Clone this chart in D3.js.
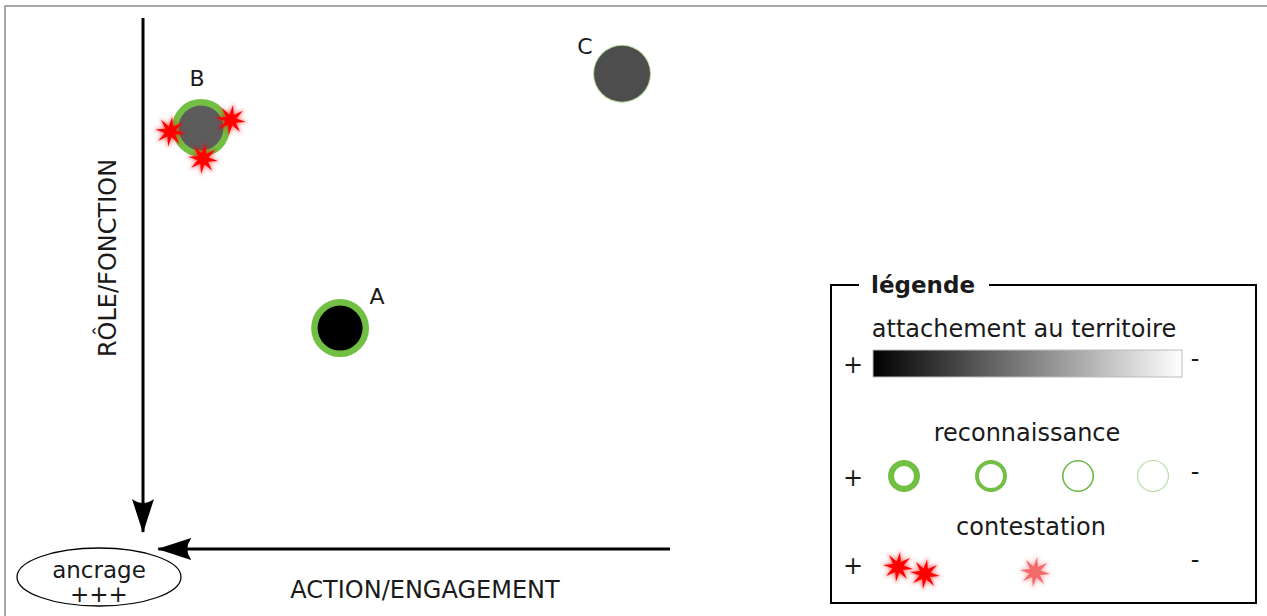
<!DOCTYPE html>
<html lang="fr">
<head>
    <meta charset="UTF-8">
    <script src="https://d3js.org/d3.v7.min.js"></script>
    <title>Ancrage</title>
    <style>
        body { margin: 0; background: #fff; }
        text { font-family: "DejaVu Sans", sans-serif; fill: #1a1a1a; }
    </style>
</head>
<body>
    <div id="chart"></div>
    <script>
        const width = 1267;
        const height = 616;

        // data
        const actors = ["A", "B", "C"];
        const engagement = [37.4, 11.0, 90.9];   // position along ACTION/ENGAGEMENT (0 = ancrage)
        const role = [41.6, 79.3, 89.5];         // position along RÔLE/FONCTION (0 = ancrage)
        const attachment = [0, 0.36, 0.30];      // 0 = strong (black), 1 = weak (white)
        const recognition = [1, 1, 4];           // 1 = strongest ... 4 = weakest
        const contestation = [0, 3, 0];          // number of contestation stars

        // legend content
        const recognitionLevels = [1, 2, 3, 4];
        const contestationLevels = [2, 1];       // "+" level and middle level
        const axisLabels = ["ACTION/ENGAGEMENT", "RÔLE/FONCTION"];

        const svg = d3.select("#chart").append("svg")
            .attr("width", width)
            .attr("height", height);

        const defs = svg.append("defs");

        // arrow head with concave back
        defs.append("marker")
            .attr("id", "head")
            .attr("viewBox", "0 -11 34 22")
            .attr("refX", 33)
            .attr("refY", 0)
            .attr("markerUnits", "userSpaceOnUse")
            .attr("markerWidth", 34)
            .attr("markerHeight", 22)
            .attr("orient", "auto")
            .append("path")
            .attr("d", "M0,-11 L34,0 L0,11 Q8,0 0,-11 Z")
            .attr("fill", "#000");

        const grad = defs.append("linearGradient").attr("id", "attachGrad");
        grad.append("stop").attr("offset", "0%").attr("stop-color", "#000");
        grad.append("stop").attr("offset", "100%").attr("stop-color", "#fff");

        const glow = defs.append("filter").attr("id", "glow")
            .attr("x", "-50%").attr("y", "-50%").attr("width", "200%").attr("height", "200%");
        glow.append("feGaussianBlur").attr("stdDeviation", 2.2);

        // outer frame
        svg.append("rect")
            .attr("x", 5).attr("y", 6)
            .attr("width", width + 10).attr("height", height + 10)
            .attr("fill", "none")
            .attr("stroke", "#8a8a8a")
            .attr("stroke-width", 1.5);

        // scales
        const x = d3.scaleLinear().domain([0, 100]).range([143, 670]);
        const y = d3.scaleLinear().domain([0, 100]).range([549, 18]);
        const shade = d3.scaleLinear().domain([0, 1]).range(["#000", "#fff"]);
        const ringWidth = d3.scaleOrdinal().domain([1, 2, 3, 4]).range([6.5, 4, 1.6, 1]);
        const legendRing = d3.scaleOrdinal().domain([1, 2, 3, 4]).range([6, 4, 1.6, 1.1]);
        const ringColor = d3.scaleOrdinal().domain([1, 2, 3, 4]).range(["#72c043", "#72c043", "#6fb84a", "#b5d99a"]);
        const contestColor = d3.scaleOrdinal().domain([2, 1]).range(["#ff0000", "#f46a6a"]);

        // axes as arrows pointing to the ancrage
        svg.append("line")
            .attr("x1", x(0)).attr("y1", y(100))
            .attr("x2", x(0)).attr("y2", y(3.2))
            .attr("stroke", "#000").attr("stroke-width", 3)
            .attr("marker-end", "url(#head)");

        svg.append("line")
            .attr("x1", x(100)).attr("y1", y(0))
            .attr("x2", x(2.9)).attr("y2", y(0))
            .attr("stroke", "#000").attr("stroke-width", 3)
            .attr("marker-end", "url(#head)");

        svg.append("text")
            .attr("x", 425).attr("y", 598)
            .attr("text-anchor", "middle")
            .attr("font-size", 24)
            .text(axisLabels[0]);

        svg.append("text")
            .attr("transform", "translate(116,258) rotate(-90)")
            .attr("text-anchor", "middle")
            .attr("font-size", 24)
            .text(axisLabels[1]);

        // ancrage ellipse
        svg.append("ellipse")
            .attr("cx", 99).attr("cy", 577)
            .attr("rx", 82).attr("ry", 29)
            .attr("fill", "#fff")
            .attr("stroke", "#000")
            .attr("stroke-width", 1.3);
        svg.append("text")
            .attr("x", 99).attr("y", 578)
            .attr("text-anchor", "middle")
            .attr("font-size", 23)
            .text("ancrage");
        svg.append("text")
            .attr("x", 99).attr("y", 602)
            .attr("text-anchor", "middle")
            .attr("font-size", 23)
            .text("+++");

        // star shape
        function starPath(r) {
            const pts = d3.range(16).map(i => [i * Math.PI / 8, i % 2 ? r * 0.38 : r]);
            return d3.lineRadial().curve(d3.curveLinearClosed)(pts);
        }

        function drawStar(g, cx, cy, r, color) {
            const s = g.append("g").attr("transform", `translate(${cx},${cy}) rotate(8)`);
            s.append("path").attr("d", starPath(r + 2.5))
                .attr("fill", color).attr("opacity", 0.6)
                .attr("filter", "url(#glow)");
            s.append("path").attr("d", starPath(r)).attr("fill", color);
        }

        // actors
        const R = 29;
        const starAngles = [173, -15, 86];
        const actorData = actors.map((name, i) => ({
            name, x: engagement[i], y: role[i], attach: attachment[i],
            rec: recognition[i], cont: contestation[i]
        }));

        const nodes = svg.selectAll(".actor")
            .data(actorData)
            .enter().append("g")
            .attr("class", "actor")
            .attr("transform", d => `translate(${x(d.x)},${y(d.y)})`);

        nodes.append("circle")
            .attr("r", R)
            .attr("fill", d => ringColor(d.rec));

        nodes.append("circle")
            .attr("r", d => R - ringWidth(d.rec))
            .attr("fill", d => shade(d.attach));

        nodes.each(function (d) {
            const g = d3.select(this);
            d3.range(d.cont).forEach(k => {
                const a = starAngles[k] * Math.PI / 180;
                drawStar(g, Math.cos(a) * (R + 2), Math.sin(a) * (R + 2), 15, "#ff0000");
            });
        });

        nodes.append("text")
            .attr("x", (d, i) => [37, -4, -37][i])
            .attr("y", (d, i) => [-24, -42, -20][i])
            .attr("text-anchor", "middle")
            .attr("font-size", 22)
            .text(d => d.name);

        // legend
        const leg = svg.append("g");
        leg.append("rect")
            .attr("x", 831).attr("y", 285)
            .attr("width", 425).attr("height", 318)
            .attr("fill", "#fff")
            .attr("stroke", "#000").attr("stroke-width", 2);
        leg.append("rect")
            .attr("x", 859).attr("y", 280)
            .attr("width", 130).attr("height", 10)
            .attr("fill", "#fff");
        leg.append("text")
            .attr("x", 871).attr("y", 293)
            .attr("font-size", 23).attr("font-weight", "bold")
            .text("légende");

        leg.append("text")
            .attr("x", 1024).attr("y", 337)
            .attr("text-anchor", "middle").attr("font-size", 24)
            .text("attachement au territoire");
        leg.append("rect")
            .attr("x", 873).attr("y", 350)
            .attr("width", 309).attr("height", 27)
            .attr("fill", "url(#attachGrad)")
            .attr("stroke", "#bbb").attr("stroke-width", 1);

        leg.append("text")
            .attr("x", 1027).attr("y", 441)
            .attr("text-anchor", "middle").attr("font-size", 24)
            .text("reconnaissance");

        leg.selectAll(".rec")
            .data(recognitionLevels)
            .enter().append("circle")
            .attr("cx", (d, i) => [904, 991, 1078, 1153][i])
            .attr("cy", 476)
            .attr("r", d => 16 - legendRing(d) / 2)
            .attr("fill", "none")
            .attr("stroke", d => ringColor(d))
            .attr("stroke-width", d => legendRing(d));

        leg.append("text")
            .attr("x", 1031).attr("y", 535)
            .attr("text-anchor", "middle").attr("font-size", 24)
            .text("contestation");

        drawStar(leg, 898, 567, 15, contestColor(contestationLevels[0]));
        drawStar(leg, 925, 574, 15, contestColor(contestationLevels[0]));
        drawStar(leg, 1035, 572, 15, contestColor(contestationLevels[1]));

        [365, 478, 566].forEach(py => {
            leg.append("text").attr("x", 853).attr("y", py + 8)
                .attr("text-anchor", "middle").attr("font-size", 24).text("+");
            leg.append("text").attr("x", 1195).attr("y", py + 2)
                .attr("text-anchor", "middle").attr("font-size", 24).text("-");
        });
    </script>
</body>
</html>
